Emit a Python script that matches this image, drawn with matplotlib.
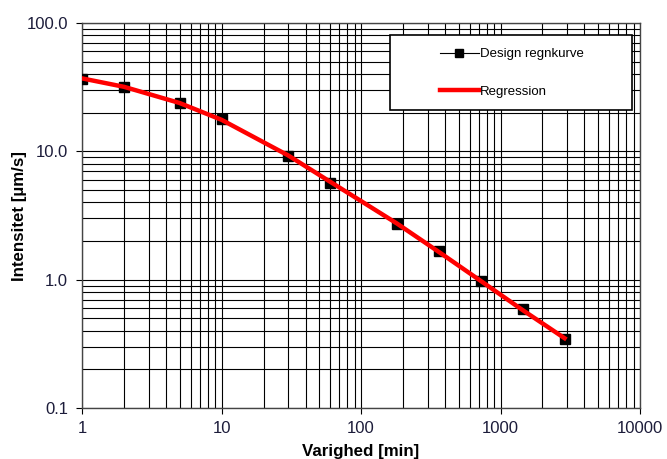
import matplotlib
matplotlib.use("Agg")
import matplotlib.pyplot as plt
from matplotlib.patches import Rectangle
from matplotlib.ticker import FixedLocator, LogLocator, NullFormatter

plt.rcParams['font.family'] = ['Liberation Sans', 'DejaVu Sans']

# design rain curve (duration in minutes, intensity in um/s)
varighed = [1, 2, 5, 10, 30, 60, 180, 360, 720, 1440, 2880]
intensitet = [36.5, 31.5, 24.0, 17.8, 9.2, 5.7, 2.7, 1.67, 0.98, 0.59, 0.345]

# regression curve
reg_x = [1, 2, 5, 10, 30, 60, 100, 180, 360, 720, 1440, 2880]
reg_y = [37.0, 31.8, 23.8, 17.6, 9.3, 5.8, 4.1, 2.75, 1.65, 0.98, 0.58, 0.35]

x_ticks = [1, 10, 100, 1000, 10000]
x_labels = ['1', '10', '100', '1000', '10000']
y_ticks = [0.1, 1, 10, 100]
y_labels = ['0.1', '1.0', '10.0', '100.0']

tick_col = '#1c1c3a'

fig = plt.figure(figsize=(6.67, 4.59), dpi=100)
ax = fig.add_axes([0.123, 0.111, 0.8365, 0.839])

ax.set_xscale('log')
ax.set_yscale('log')
ax.set_xlim(1, 10000)
ax.set_ylim(0.1, 100)

ax.plot(varighed, intensitet, color='black', lw=0.8, marker='s', ms=7,
        label='Design regnkurve', zorder=3)
ax.plot(reg_x, reg_y, color='red', lw=3.2, label='Regression', zorder=4)

ax.xaxis.set_major_locator(FixedLocator(x_ticks))
ax.set_xticklabels(x_labels)
ax.yaxis.set_major_locator(FixedLocator(y_ticks))
ax.set_yticklabels(y_labels)
ax.xaxis.set_minor_locator(LogLocator(base=10, subs=range(2, 10)))
ax.yaxis.set_minor_locator(LogLocator(base=10, subs=range(2, 10)))
ax.xaxis.set_minor_formatter(NullFormatter())
ax.yaxis.set_minor_formatter(NullFormatter())
ax.tick_params(which='major', length=4, width=0.8, labelsize=12,
               color='black', labelcolor=tick_col)
ax.tick_params(axis='y', pad=6)
ax.tick_params(axis='x', pad=5)
ax.tick_params(which='minor', length=0)
ax.grid(which='both', color='black', lw=0.8)
for s in ax.spines.values():
    s.set_color('#444444')
    s.set_linewidth(1.0)

ax.set_xlabel('Varighed [min]', fontsize=12.2, fontweight='bold', labelpad=6)
ax.set_ylabel('Intensitet [µm/s]', fontsize=12.2, fontweight='bold', labelpad=0)

# legend box
ax.add_patch(Rectangle((0.552, 0.774), 0.434, 0.195, transform=ax.transAxes,
                       facecolor='white', edgecolor='black', lw=1.2, zorder=5))
leg = ax.legend(loc='upper left', bbox_to_anchor=(0.642, 0.935), frameon=False,
                fontsize=9.5, handlelength=2.9, handletextpad=0.1, borderpad=0,
                labelspacing=1.9, borderaxespad=0, markerscale=0.75)
leg.set_zorder(6)

fig.savefig('out.png', dpi=100)
